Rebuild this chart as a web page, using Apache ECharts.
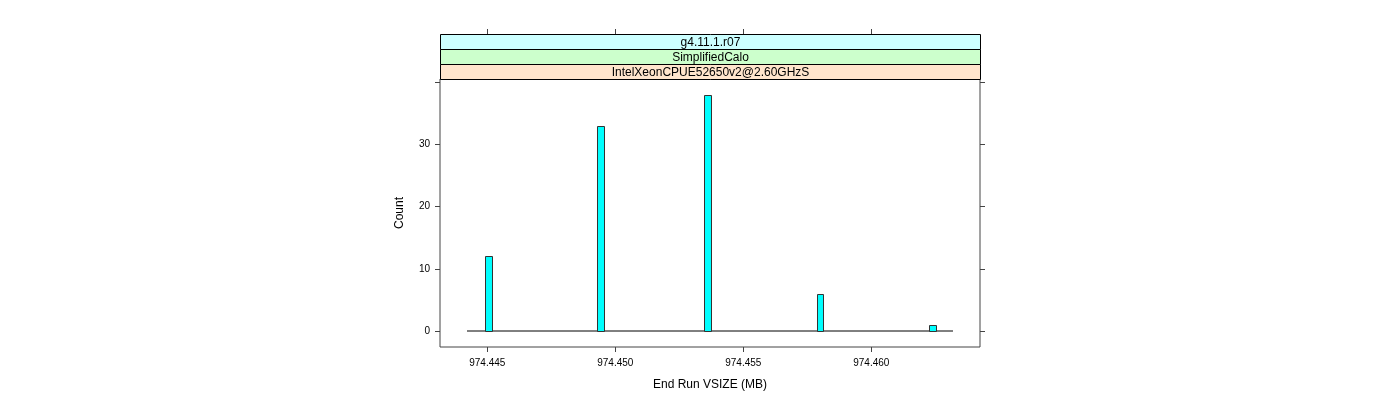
<!DOCTYPE html>
<html>
<head>
<meta charset="utf-8">
<script src="https://cdn.jsdelivr.net/npm/echarts@6/dist/echarts.min.js"></script>
<style>
html,body{margin:0;padding:0;background:#fff;}
#chart{width:1400px;height:400px;}
</style>
</head>
<body>
<div id="chart"></div>
<script>
// ---- data ----
const binCenters = [974.445047, 974.449434, 974.453602, 974.457996, 974.462391];
const counts = [12, 33, 38, 6, 1];
const binWidth = 0.000273;
const baselineRange = [974.444207, 974.463191];
const xTicks = [974.445, 974.450, 974.455, 974.460];
const yTicks = [0, 10, 20, 30];
const yTicksAll = [0, 10, 20, 30, 40];
const xLimits = [974.443152, 974.464246];
const yLimits = [-2.57, 40.51];
const stripLabels = ['g4.11.1.r07', 'SimplifiedCalo', 'IntelXeonCPUE52650v2@2.60GHzS'];
const xTitle = 'End Run VSIZE (MB)';
const yTitle = 'Count';

const FONT = '"Liberation Sans", Arial, Helvetica, sans-serif';
const AX = '#444';
const chart = echarts.init(document.getElementById('chart'), null, {renderer: 'canvas'});

const barData = binCenters.map((x, i) => [x, counts[i]]);

const stripColors = ['#CCFFFF', '#CCFFCC', '#FFE5CC'];
const stripGraphics = stripLabels.map((t, i) => ({
  type: 'group',
  left: 440, top: 34 + i * 15,
  children: [
    {type: 'rect', shape: {x: 0.5, y: 0.5, width: 540, height: 15},
     style: {fill: stripColors[i], stroke: '#000', lineWidth: 1}},
    {type: 'text', x: 270.5, y: 8.5,
     style: {text: t, fill: '#000', font: '12px ' + FONT, align: 'center', verticalAlign: 'middle'}}
  ]
}));

const tickStyle = {show: true, inside: false, length: 5, lineStyle: {color: AX, width: 1}};

chart.setOption({
  animation: false,
  backgroundColor: '#fff',
  grid: {left: 440, right: 420, top: 79, bottom: 53, show: true, borderColor: AX, borderWidth: 1, backgroundColor: 'transparent'},
  xAxis: [
    {
      type: 'value', min: xLimits[0], max: xLimits[1], position: 'bottom',
      name: xTitle, nameLocation: 'middle', nameGap: 32,
      nameTextStyle: {fontFamily: FONT, fontSize: 12, color: '#000'},
      axisLine: {show: false, onZero: false},
      axisTick: Object.assign({customValues: xTicks}, tickStyle),
      axisLabel: {customValues: xTicks, margin: 11, fontFamily: FONT, fontSize: 10, color: '#000',
        formatter: v => v.toFixed(3)},
      splitLine: {show: false}
    },
    {
      type: 'value', min: xLimits[0], max: xLimits[1], position: 'top', offset: 45,
      axisLine: {show: false, onZero: false},
      axisTick: Object.assign({customValues: xTicks}, tickStyle),
      axisLabel: {show: false},
      splitLine: {show: false}
    }
  ],
  yAxis: [
    {
      type: 'value', min: yLimits[0], max: yLimits[1], position: 'left',
      name: yTitle, nameLocation: 'middle', nameGap: 34, nameRotate: 90,
      nameTextStyle: {fontFamily: FONT, fontSize: 12, color: '#000'},
      axisLine: {show: false, onZero: false},
      axisTick: Object.assign({customValues: yTicksAll}, tickStyle),
      axisLabel: {customValues: yTicks, margin: 10, fontFamily: FONT, fontSize: 10, color: '#000'},
      splitLine: {show: false}
    },
    {
      type: 'value', min: yLimits[0], max: yLimits[1], position: 'right',
      axisLine: {show: false, onZero: false},
      axisTick: Object.assign({customValues: yTicksAll}, tickStyle),
      axisLabel: {show: false},
      splitLine: {show: false}
    }
  ],
  series: [
    {
      type: 'line', xAxisIndex: 0, yAxisIndex: 0,
      data: [[baselineRange[0], 0], [baselineRange[1], 0]],
      symbol: 'none', lineStyle: {color: '#000', width: 1}, z: 1, silent: true
    },
    {
      type: 'custom', xAxisIndex: 0, yAxisIndex: 0, z: 2,
      data: barData,
      renderItem: function (params, api) {
        const x = api.value(0), y = api.value(1);
        const p0 = api.coord([x - binWidth / 2, 0]);
        const p1 = api.coord([x + binWidth / 2, y]);
        const l = Math.round(p0[0]) + 0.5, r = Math.round(p1[0]) + 0.5;
        const b = Math.round(p0[1]) + 0.5, t = Math.round(p1[1]) + 0.5;
        return {
          type: 'rect',
          shape: {x: l, y: t, width: r - l, height: b - t},
          style: {fill: '#00FFFF', stroke: '#333', lineWidth: 1}
        };
      }
    }
  ],
  graphic: stripGraphics
});
</script>
</body>
</html>
